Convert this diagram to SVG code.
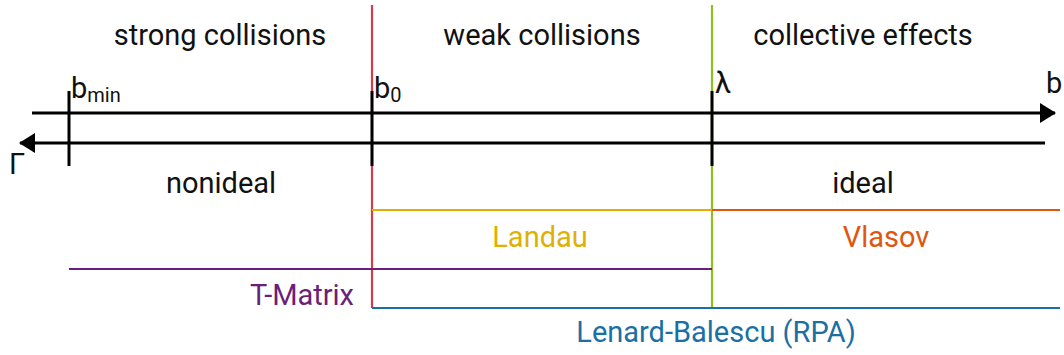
<svg xmlns="http://www.w3.org/2000/svg" width="1064" height="355" viewBox="0 0 1064 355">
  <style>
    text { font-family: Roboto, "Liberation Sans", sans-serif; font-size: 29px; fill: #111; }
    .mid { text-anchor: middle; }
    .end { text-anchor: end; }
    .axis { stroke: #000; stroke-width: 3; fill: none; }
    .tick { stroke: #000; stroke-width: 3; }
    .range { stroke-width: 2.2; fill: none; }
  </style>
  <defs>
    <marker id="arrow" viewBox="0 0 16 20" refX="15" refY="10" markerWidth="16" markerHeight="20" markerUnits="userSpaceOnUse" orient="auto">
      <path d="M0,0 L16,10 L0,20 Z" fill="#000"/>
    </marker>
  </defs>

  <!-- region boundaries and validity ranges -->
  <g id="connectors">
    <line class="range" x1="372" y1="5" x2="372" y2="308" stroke="#d23c4c"/>
    <line class="range" x1="712" y1="5" x2="712" y2="308" stroke="#8dc021"/>
    <line class="range" x1="372" y1="210" x2="712" y2="210" stroke="#e0b000"/>
    <line class="range" x1="712" y1="210" x2="1060" y2="210" stroke="#e0560e"/>
    <line class="range" x1="69" y1="269" x2="712" y2="269" stroke="#6a1f7a"/>
    <line class="range" x1="372" y1="308" x2="1060" y2="308" stroke="#1a6fa3"/>

    <!-- impact parameter axis and coupling axis -->
    <line class="axis" x1="32" y1="113" x2="1055" y2="113" marker-end="url(#arrow)"/>
    <line class="axis" x1="1045" y1="143" x2="20" y2="143" marker-end="url(#arrow)"/>

    <!-- ticks -->
    <line class="tick" x1="69" y1="91" x2="69" y2="166"/>
    <line class="tick" x1="372" y1="91" x2="372" y2="166"/>
    <line class="tick" x1="712" y1="91" x2="712" y2="166"/>
  </g>

  <g id="region-strong"><text class="mid" x="220" y="45">strong collisions</text></g>
  <g id="region-weak"><text class="mid" x="542" y="45">weak collisions</text></g>
  <g id="region-collective"><text class="mid" x="863" y="45">collective effects</text></g>

  <g id="label-bmin"><text x="71" y="98">b<tspan font-size="20" dy="4">min</tspan></text></g>
  <g id="label-b0"><text x="374" y="98">b<tspan font-size="20" dy="4">0</tspan></text></g>
  <g id="label-lambda"><text x="715" y="93">λ</text></g>
  <g id="label-b"><text x="1046" y="93">b</text></g>
  <g id="label-gamma"><text x="9" y="174">Γ</text></g>

  <g id="label-nonideal"><text class="mid" x="221" y="193">nonideal</text></g>
  <g id="label-ideal"><text class="mid" x="863" y="193">ideal</text></g>

  <g id="label-landau"><text class="mid" x="540" y="247" style="fill:#e0b000">Landau</text></g>
  <g id="label-vlasov"><text class="mid" x="886" y="247" style="fill:#e0560e">Vlasov</text></g>
  <g id="label-tmatrix"><text class="end" x="354" y="305" style="fill:#6a1f7a">T-Matrix</text></g>
  <g id="label-lenard"><text class="mid" x="716" y="342" style="fill:#1a6fa3">Lenard-Balescu (RPA)</text></g>
</svg>
